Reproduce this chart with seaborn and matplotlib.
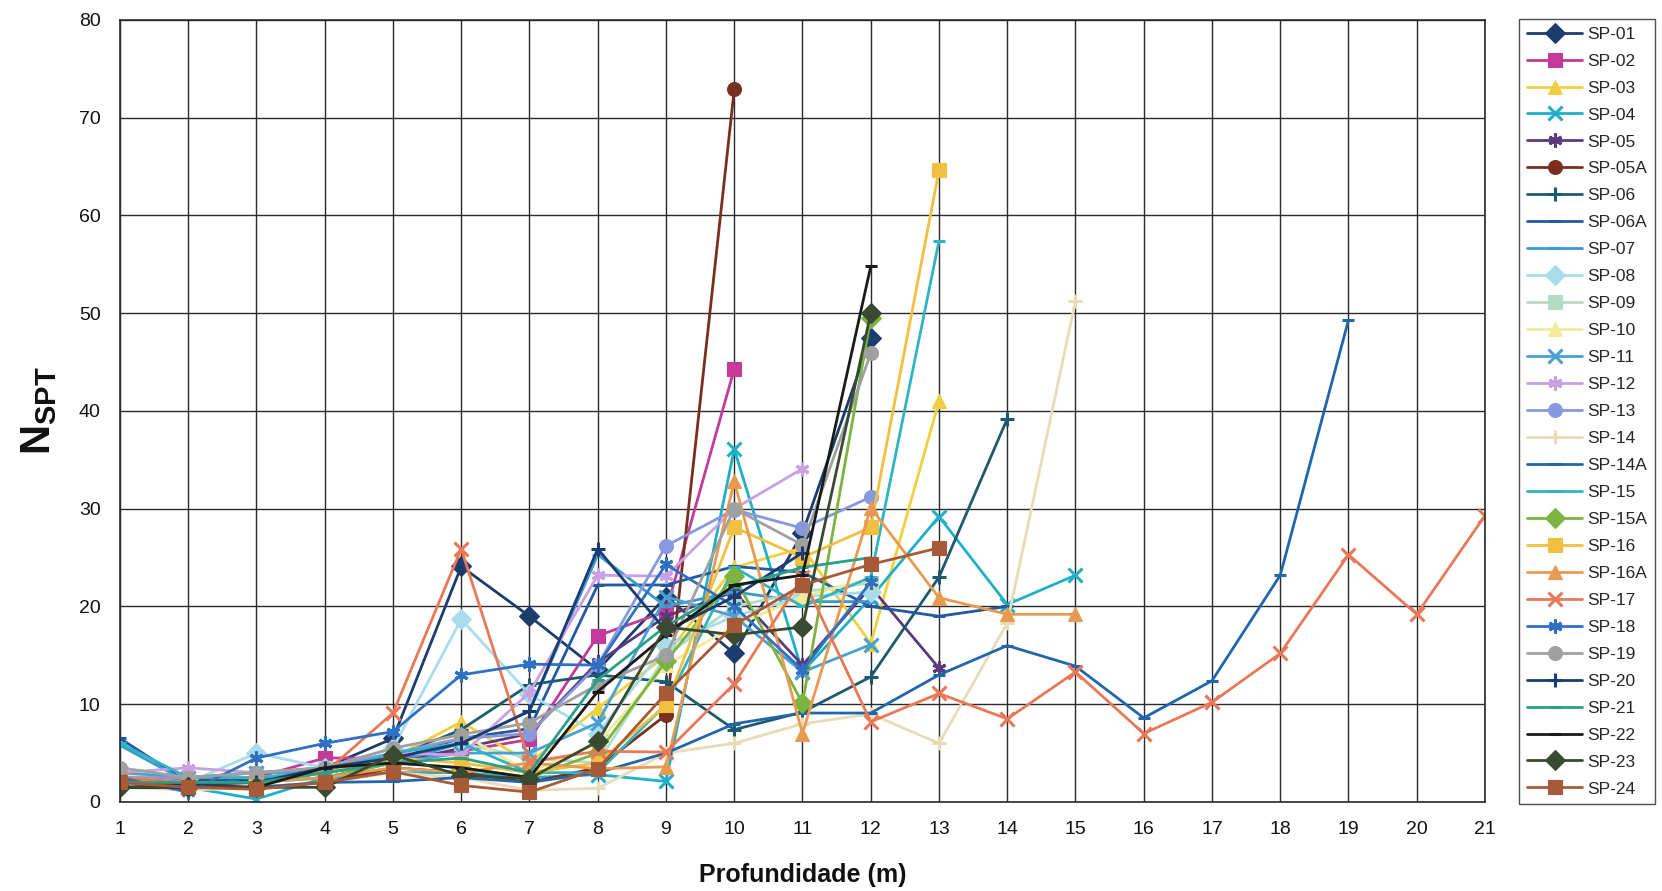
import matplotlib
matplotlib.use("Agg")
import matplotlib.pyplot as plt
import seaborn as sns

# Sondagens SPT - N por profundidade
names = ['SP-01', 'SP-02', 'SP-03', 'SP-04', 'SP-05', 'SP-05A', 'SP-06', 'SP-06A',
         'SP-07', 'SP-08', 'SP-09', 'SP-10', 'SP-11', 'SP-12', 'SP-13', 'SP-14',
         'SP-14A', 'SP-15', 'SP-15A', 'SP-16', 'SP-16A', 'SP-17', 'SP-18', 'SP-19',
         'SP-20', 'SP-21', 'SP-22', 'SP-23', 'SP-24']

sp01 = [2.0, 1.8, 2.2, 3.5, 6.5, 24.1, 19.0, 13.5, 21.0, 15.2, 27.5, 47.5]
sp02 = [2.3, 2.5, 2.5, 4.5, 4.5, 5.2, 6.4, 17.0, 19.5, 44.3]
sp03 = [2.5, 2.0, 2.0, 3.0, 4.5, 8.2, 4.0, 9.6, 15.0, 24.0, 26.0, 16.2, 41.0]
sp04 = [3.0, 1.5, 0.3, 2.5, 3.0, 3.0, 2.5, 2.8, 2.1, 36.1, 13.3, 20.9, 29.2, 20.2, 23.2]
sp05 = [2.0, 2.2, 2.5, 3.0, 4.0, 5.5, 7.0, 14.3, 19.0, 21.5, 14.0, 22.0, 13.7]
sp05a = [1.5, 1.8, 1.5, 2.0, 3.5, 3.0, 2.0, 3.5, 8.9, 72.9]
sp06 = [2.0, 1.8, 2.0, 3.0, 4.5, 7.4, 12.0, 13.0, 12.3, 7.4, 9.2, 12.8, 23.0, 39.2]
sp06a = [6.5, 2.0, 2.5, 3.0, 4.5, 6.5, 7.5, 22.2, 22.2, 24.1, 23.5, 20.0, 19.0, 20.0]
sp07 = [5.8, 2.0, 2.0, 2.5, 4.0, 6.0, 9.3, 25.3, 20.0, 21.5, 20.5, 20.5]
sp08 = [2.5, 2.0, 5.0, 3.5, 5.5, 18.7, 11.0, 7.0, 16.0, 19.0, 21.0, 21.5]
sp09 = [3.0, 2.5, 3.0, 3.5, 5.0, 6.0, 4.5, 4.0, 15.0, 20.0, 21.5, 22.4]
sp10 = [2.8, 2.5, 2.5, 3.0, 4.5, 7.0, 3.0, 6.0, 14.0, 18.0, 21.0, 22.8]
sp11 = [3.0, 2.5, 3.0, 3.0, 4.0, 5.0, 5.0, 8.1, 21.0, 19.0, 13.3, 16.1]
sp12 = [3.0, 3.5, 3.0, 3.5, 5.0, 4.8, 11.2, 23.2, 23.1, 30.0, 34.1]
sp13 = [2.5, 2.5, 3.0, 3.5, 5.0, 6.5, 7.0, 14.0, 26.2, 29.9, 28.0, 31.2]
sp14 = [1.5, 1.2, 1.5, 2.0, 3.0, 2.5, 1.2, 1.4, 5.0, 6.0, 8.0, 9.0, 6.0, 18.3, 51.3]
sp14a = [1.5, 1.5, 1.5, 2.0, 2.1, 2.5, 2.0, 3.0, 5.0, 8.0, 9.1, 9.1, 13.0, 16.0,
         13.9, 8.6, 12.4, 23.2, 49.3]
sp15 = [6.0, 2.5, 2.5, 3.0, 5.0, 6.0, 3.0, 3.0, 10.0, 24.0, 20.0, 23.0, 57.4]
sp15a = [2.0, 2.0, 2.0, 2.5, 4.0, 3.5, 2.5, 5.0, 14.4, 23.1, 10.1, 49.5]
sp16 = [2.5, 2.0, 2.0, 3.0, 4.5, 4.0, 3.0, 4.0, 9.9, 28.1, 25.0, 28.1, 64.6]
sp16a = [2.0, 2.0, 2.0, 2.5, 3.5, 3.0, 4.0, 3.4, 3.6, 32.8, 7.0, 30.1, 20.9, 19.2, 19.2]
sp17 = [2.5, 2.0, 2.0, 3.0, 9.1, 25.9, 4.1, 5.2, 5.1, 12.1, 23.0, 8.2, 11.1, 8.5,
        13.3, 7.0, 10.2, 15.2, 25.3, 19.2, 29.3]
sp18 = [2.5, 1.0, 4.5, 6.0, 7.2, 13.0, 14.1, 14.0, 24.3, 20.0, 13.5, 22.5]
sp19 = [3.5, 2.5, 3.0, 3.5, 5.5, 6.9, 8.1, 12.0, 15.0, 30.0, 26.3, 45.9]
sp20 = [2.0, 1.8, 2.0, 3.5, 4.5, 6.0, 9.3, 25.9, 17.5, 21.0, 25.5]
sp21 = [2.0, 2.0, 2.0, 3.0, 4.0, 4.5, 3.0, 12.5, 18.0, 22.0, 24.0, 25.0]
sp22 = [1.5, 1.5, 1.5, 3.5, 4.0, 3.5, 2.5, 11.3, 17.1, 22.2, 23.2, 54.8]
sp23 = [1.5, 1.5, 1.5, 1.5, 4.8, 2.7, 2.4, 6.2, 17.9, 17.1, 17.9, 50.0]
sp24 = [2.0, 1.5, 1.3, 2.0, 3.1, 1.7, 1.0, 3.4, 11.1, 18.1, 22.2, 24.3, 26.0]

values = [sp01, sp02, sp03, sp04, sp05, sp05a, sp06, sp06a, sp07, sp08, sp09, sp10,
          sp11, sp12, sp13, sp14, sp14a, sp15, sp15a, sp16, sp16a, sp17, sp18, sp19,
          sp20, sp21, sp22, sp23, sp24]

colors = ['#1d3c6e', '#c43a9a', '#f0d040', '#1fb0c8', '#5a3a7c', '#7a2e1e', '#1e5a6e',
          '#2359a0', '#3a9ad0', '#a8dcec', '#b4dcc4', '#f4ea98', '#4aa0d0', '#c8a0e4',
          '#8898dc', '#e8dcb8', '#2266aa', '#30b4c4', '#7cb442', '#f2c040', '#e89a50',
          '#e87858', '#3070c0', '#a0a0a0', '#1a3c70', '#2aa088', '#1a1a1a', '#3a4a30',
          '#a85a38']

star = (6, 2, 0)
markers = ['D', 's', '^', 'x', star, 'o', '+', '_', '_', 'D', 's', '^', 'x', star,
           'o', '+', '_', '_', 'D', 's', '^', 'x', star, 'o', '+', '_', '_', 'D', 's']

sns.set_style('white')
plt.rcParams['font.family'] = ['Liberation Sans', 'DejaVu Sans']
plt.rcParams['mathtext.fontset'] = 'custom'
plt.rcParams['mathtext.bf'] = 'Liberation Sans:bold'
plt.rcParams['mathtext.rm'] = 'Liberation Sans'

fig = plt.figure(figsize=(16.62, 8.91), dpi=100)
ax = fig.add_axes([0.0722, 0.0999, 0.8213, 0.8777])

for name, vals, c, m in zip(names, values, colors, markers):
    depth = list(range(1, len(vals) + 1))
    line_art = m in ('x', '+', '_') or m == star
    sns.lineplot(x=depth, y=vals, ax=ax, color=c, marker=m,
                 markersize=10 if m != '_' else 9,
                 markeredgecolor=c, markerfacecolor=c,
                 markeredgewidth=2.2 if line_art else 0.8,
                 linewidth=2.0, label=name, legend=False)

ax.set_xlim(1, 21)
ax.set_ylim(0, 80)
ax.set_xticks(range(1, 22))
ax.set_yticks(range(0, 81, 10))
ax.grid(True, color='#2a2a2a', linewidth=1.0)
ax.set_axisbelow(True)
for s in ax.spines.values():
    s.set_color('#2a2a2a')
    s.set_linewidth(1.2)
ax.tick_params(axis='both', direction='out', length=6, width=1.0, color='#2a2a2a',
               labelsize=14, pad=8, labelcolor='#111111')

ax.set_xlabel('Profundidade (m)', fontsize=18, fontweight='bold', labelpad=18,
              color='#111111')
ax.set_ylabel(r'$\mathbf{N}_{\mathbf{SPT}}$', fontsize=30, labelpad=14, color='#111111')

handles, labels = ax.get_legend_handles_labels()
leg = fig.legend(handles, labels, loc='upper left', bbox_to_anchor=(0.914, 0.979),
                 fontsize=12.5, frameon=True, fancybox=False, edgecolor='#222222',
                 handlelength=3.2, handletextpad=0.3, labelspacing=0.68,
                 borderpad=0.45, borderaxespad=0)
leg.get_frame().set_linewidth(1.0)

fig.savefig('out.png', dpi=100)
